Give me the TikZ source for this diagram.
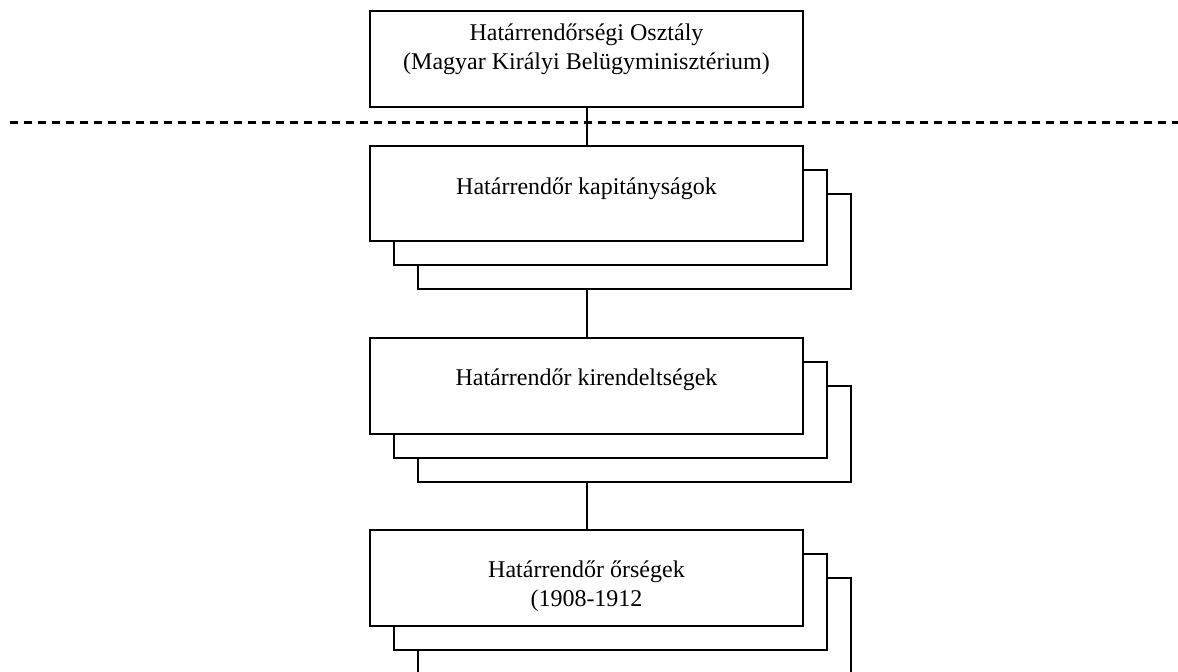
\documentclass[tikz,border=0pt]{standalone}
\usepackage{fontspec}
\setmainfont{Liberation Serif}
\begin{document}
\begin{tikzpicture}[x=0.5pt,y=-0.5pt,
  box/.style={draw,line width=1pt,fill=white,minimum width=216.5pt,minimum height=47.75pt,inner sep=0pt},
  lbl/.style={align=center,font=\fontsize{12}{14.5}\selectfont,inner sep=0pt},
  link/.style={line width=1pt},
  sep/.style={line width=1.1pt,dash pattern=on 4pt off 3pt}]
\useasboundingbox (0,0) rectangle (1178,671);
\clip (0,0) rectangle (1178,671);
% top box
\node[box] (top) at (586.5,59) {};
\node[lbl] (toptxt) at (586.5,49) {Határrendőrségi Osztály\\(Magyar Királyi Belügyminisztérium)};
% dashed separator
\coordinate (dl) at (10,122.5);
\coordinate (dr) at (1178,122.5);
\draw[sep] (dl) -- (dr);
% kapitanysagok stack
\node[box] (kap3) at (634.5,241.5) {};
\node[box] (kap2) at (610.5,217.5) {};
\node[box] (kap1) at (586.5,193.5) {};
\node[lbl] (kaptxt) at (586.5,189) {Határrendőr kapitányságok};
% kirendeltsegek stack
\node[box] (kir3) at (634.5,434) {};
\node[box] (kir2) at (610.5,410) {};
\node[box] (kir1) at (586.5,386) {};
\node[lbl] (kirtxt) at (586.5,380) {Határrendőr kirendeltségek};
% orsegek stack
\node[box] (or3) at (634.5,626) {};
\node[box] (or2) at (610.5,602) {};
\node[box] (or1) at (586.5,578) {};
\node[lbl] (ortxt) at (586.5,586) {Határrendőr őrségek\\(1908-1912};
% connectors
\draw[link] (top.south) -- (kap1.north);
\draw[link] (kir1.north |- kap3.south) -- (kir1.north);
\draw[link] (or1.north |- kir3.south) -- (or1.north);
\end{tikzpicture}
\end{document}
